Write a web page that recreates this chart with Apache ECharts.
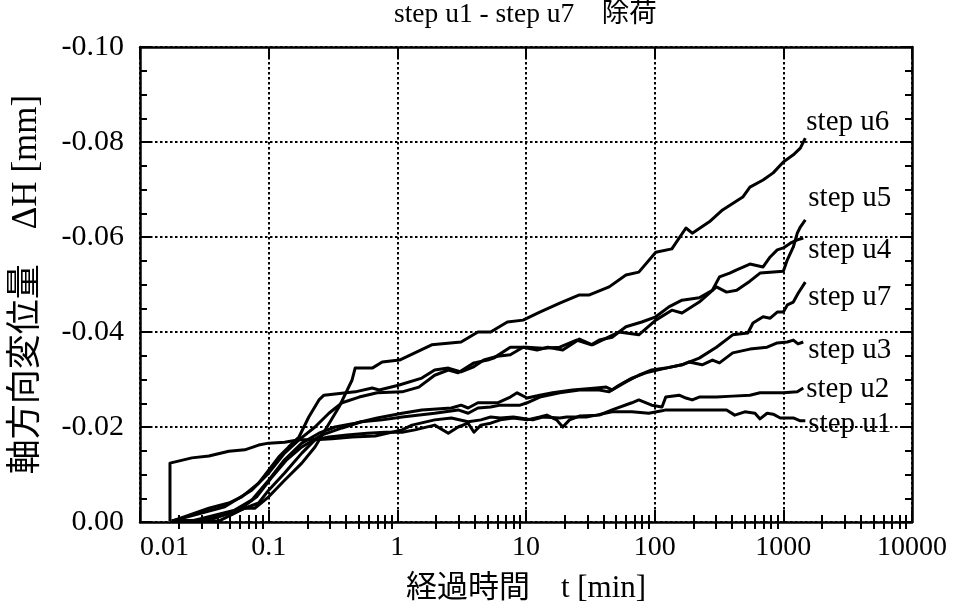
<!DOCTYPE html>
<html><head><meta charset="utf-8">
<script src="https://cdn.jsdelivr.net/npm/echarts@6/dist/echarts.min.js"></script>
<style>html,body{margin:0;padding:0;background:#fff}#c{width:959px;height:610px}</style>
</head><body><div id="c"></div>
<script>
const titleText = 'step u1 - step u7\u3000除荷';
const xName = '経過時間\u3000t [min]';
const yName = '軸方向変位量\u3000ΔH [mm]';
const xTickValues = [0.01, 0.1, 1, 10, 100, 1000, 10000];
const xTickLabels = ['0.01', '0.1', '1', '10', '100', '1000', '10000'];
const yTickLabels = ['-0.10', '-0.08', '-0.06', '-0.04', '-0.02', '0.00'];
const seriesNames = ['step u1', 'step u2', 'step u3', 'step u4', 'step u5', 'step u6', 'step u7'];

const u6 = [[0.0177,-0.0002],[0.0409,-0.0002],[0.0652,-0.0029],[0.0779,-0.0029],[0.1,-0.0053],[0.133,-0.0088],[0.181,-0.0124],[0.229,-0.0158],[0.284,-0.0200],[0.352,-0.0242],[0.445,-0.0299],[0.47,-0.0324],[0.638,-0.0324],[0.763,-0.0337],[1.04,-0.0341],[1.85,-0.0373],[3.13,-0.0379],[4.23,-0.0400],[5.31,-0.0400],[7.16,-0.0421],[9.49,-0.0425],[12.8,-0.0442],[18.3,-0.0461],[26.0,-0.0478],[31.1,-0.0478],[44.3,-0.0495],[59.8,-0.0520],[75.3,-0.0526],[102,-0.0568],[136,-0.0575],[175,-0.0619],[196,-0.0608],[266,-0.0632],[337,-0.0657],[484,-0.0684],[550,-0.0705],[696,-0.0720],[834,-0.0735],[1000,-0.0758],[1196,-0.0773],[1355,-0.0787],[1482,-0.0808]];
const u5 = [[0.0177,-0.0002],[0.0343,-0.0029],[0.049,-0.0040],[0.0618,-0.0053],[0.0836,-0.0082],[0.1,-0.0109],[0.120,-0.0137],[0.143,-0.0158],[0.172,-0.0179],[0.205,-0.0221],[0.246,-0.0257],[0.269,-0.0267],[0.47,-0.0274],[0.638,-0.0282],[0.723,-0.0278],[1.02,-0.0288],[1.55,-0.0303],[1.95,-0.0320],[2.49,-0.0324],[3.13,-0.0316],[3.87,-0.0326],[4.70,-0.0341],[6.01,-0.0349],[7.55,-0.0352],[9.5,-0.0368],[12.2,-0.0362],[14.8,-0.0368],[19.3,-0.0362],[26.0,-0.0385],[32.8,-0.0373],[39.1,-0.0383],[52.8,-0.0400],[75.3,-0.0394],[102,-0.0425],[136,-0.0446],[163,-0.0440],[222,-0.0463],[302,-0.0495],[362,-0.0484],[434,-0.0488],[550,-0.0507],[659,-0.0524],[790,-0.0526],[1000,-0.0528],[1074,-0.0552],[1196,-0.0579],[1284,-0.0608],[1355,-0.0621],[1482,-0.0636]];
const u4 = [[0.0177,-0.0002],[0.0456,-0.0032],[0.0738,-0.0067],[0.1,-0.0103],[0.133,-0.0145],[0.172,-0.0173],[0.229,-0.0200],[0.294,-0.0229],[0.372,-0.0251],[0.505,-0.0263],[0.698,-0.0272],[1.09,-0.0274],[1.47,-0.0284],[1.95,-0.0309],[2.49,-0.0320],[2.97,-0.0314],[3.94,-0.0335],[5.04,-0.0341],[5.60,-0.0345],[7.55,-0.0368],[10.2,-0.0368],[13.5,-0.0366],[18.3,-0.0368],[24.7,-0.0383],[32.2,-0.0373],[37.1,-0.0383],[46.7,-0.0389],[59.8,-0.0411],[79.4,-0.0421],[102,-0.0432],[129,-0.0453],[163,-0.0467],[222,-0.0472],[281,-0.0488],[319,-0.0516],[383,-0.0524],[434,-0.0531],[550,-0.0543],[696,-0.0537],[790,-0.0558],[897,-0.0573],[1000,-0.0577],[1133,-0.0587],[1284,-0.0594],[1429,-0.0598]];
const u7 = [[0.0177,-0.0002],[0.0253,-0.0002],[0.0545,-0.0025],[0.0738,-0.0046],[0.1,-0.0088],[0.133,-0.0131],[0.181,-0.0166],[0.246,-0.0187],[0.328,-0.0200],[0.47,-0.0208],[0.698,-0.0219],[1.09,-0.0229],[1.55,-0.0236],[2.63,-0.0240],[3.13,-0.0246],[3.55,-0.0240],[4.23,-0.0251],[6.01,-0.0251],[7.55,-0.0263],[8.53,-0.0272],[10.2,-0.0261],[12.8,-0.0267],[16.1,-0.0272],[23.0,-0.0278],[35.2,-0.0282],[42.0,-0.0284],[46.7,-0.0278],[59.8,-0.0295],[75.3,-0.0309],[94.8,-0.0320],[122,-0.0324],[163,-0.0331],[222,-0.0345],[302,-0.0368],[404,-0.0394],[530,-0.0398],[581,-0.0419],[696,-0.0432],[790,-0.0429],[897,-0.0442],[1000,-0.0442],[1074,-0.0457],[1196,-0.0463],[1307,-0.0482],[1482,-0.0505]];
const u3 = [[0.0177,-0.0002],[0.0302,-0.0002],[0.0585,-0.0025],[0.0807,-0.0053],[0.105,-0.0093],[0.138,-0.0131],[0.181,-0.0158],[0.258,-0.0183],[0.372,-0.0198],[0.526,-0.0211],[0.763,-0.0215],[1.09,-0.0221],[1.95,-0.0229],[2.97,-0.0236],[3.55,-0.0229],[4.23,-0.0240],[5.31,-0.0242],[6.33,-0.0246],[9.0,-0.0246],[10.2,-0.0251],[12.8,-0.0263],[18.3,-0.0272],[26.0,-0.0278],[37.1,-0.0278],[44.3,-0.0274],[52.8,-0.0288],[66.5,-0.0303],[85.3,-0.0314],[122,-0.0324],[163,-0.0331],[185,-0.0337],[234,-0.0331],[281,-0.0341],[319,-0.0335],[404,-0.0356],[550,-0.0364],[748,-0.0368],[897,-0.0377],[1074,-0.0379],[1196,-0.0383],[1300,-0.0375],[1429,-0.0379]];
const u2 = [[0.0177,-0.0002],[0.0343,-0.0004],[0.0652,-0.0029],[0.0836,-0.0040],[0.1,-0.0067],[0.133,-0.0103],[0.181,-0.0145],[0.229,-0.0173],[0.294,-0.0179],[0.407,-0.0183],[0.583,-0.0187],[0.806,-0.0189],[1.09,-0.0189],[1.37,-0.0194],[1.95,-0.0204],[2.49,-0.0187],[2.97,-0.0200],[3.55,-0.0208],[3.94,-0.0189],[4.46,-0.0204],[5.31,-0.0208],[6.33,-0.0215],[7.96,-0.0219],[10.2,-0.0215],[12.8,-0.0221],[14.5,-0.0225],[17.3,-0.0215],[19.3,-0.0200],[21.8,-0.0215],[26.0,-0.0223],[37.1,-0.0225],[46.7,-0.0236],[66.5,-0.0251],[75.3,-0.0257],[94.8,-0.0246],[114,-0.0242],[122,-0.0263],[155,-0.0267],[175,-0.0261],[196,-0.0257],[222,-0.0263],[302,-0.0263],[404,-0.0265],[550,-0.0267],[659,-0.0272],[897,-0.0272],[1000,-0.0272],[1284,-0.0274],[1429,-0.0282]];
const u1 = [[0.0171,-0.0002],[0.0171,-0.0124],[0.0253,-0.0135],[0.0343,-0.0139],[0.049,-0.0149],[0.0652,-0.0152],[0.0836,-0.0162],[0.1,-0.0166],[0.133,-0.0168],[0.172,-0.0173],[0.229,-0.0173],[0.311,-0.0175],[0.445,-0.0179],[0.673,-0.0181],[1.09,-0.0194],[1.30,-0.0204],[1.95,-0.0215],[2.63,-0.0219],[3.55,-0.0211],[4.46,-0.0215],[5.31,-0.0221],[6.33,-0.0219],[7.96,-0.0221],[9.0,-0.0219],[11.3,-0.0215],[13.5,-0.0221],[18.3,-0.0219],[20.7,-0.0221],[29.4,-0.0221],[35.2,-0.0225],[46.7,-0.0232],[66.5,-0.0232],[90,-0.0229],[114,-0.0234],[122,-0.0236],[222,-0.0236],[362,-0.0236],[419,-0.0225],[502,-0.0232],[602,-0.0229],[659,-0.0217],[748,-0.0229],[834,-0.0227],[947,-0.0219],[1196,-0.0219],[1355,-0.0213],[1482,-0.0213]];

const seriesData = [u1, u2, u3, u4, u5, u6, u7];
const labelOffsets = [[0, 4], [0, 1], [2, 8], [2, 12], [0, -22], [-2, -16], [0, 15]];

const xMinorTicks = [];
for (let k = -2; k <= 3; k++) {
  for (let m = 2; m <= 9; m++) xMinorTicks.push(+(m * Math.pow(10, k)).toPrecision(3));
}

const SERIF = "'Liberation Serif', 'Times New Roman', 'Noto Sans CJK JP', serif";
const black = '#000';
const dotted = { color: black, width: 2, type: [2.5, 2.5] };
const frame = { show: true, onZero: false, lineStyle: { color: black, width: 2.5 } };

const chart = echarts.init(document.getElementById('c'), null, { renderer: 'canvas' });
const xCommon = { type: 'log', logBase: 10, min: 0.01, max: 10000, gridIndex: 0 };
const yCommon = { type: 'value', min: -0.1, max: 0, interval: 0.02, inverse: true, gridIndex: 0 };

chart.setOption({
  animation: false,
  backgroundColor: '#fff',
  grid: { left: 140, right: 47, top: 47, bottom: 88, containLabel: false },
  graphic: [{
    type: 'text', left: 527 - 133, top: 1,
    style: { text: titleText, fontSize: 27.5, fontFamily: SERIF, fill: black }
  }],
  xAxis: [
    Object.assign({}, xCommon, {
      position: 'bottom',
      axisLine: frame,
      axisTick: { show: true, inside: true, length: 12, lineStyle: { color: black, width: 2 } },
      axisLabel: {
        show: true, margin: 12, color: black, fontSize: 28, fontFamily: SERIF,
        alignMinLabel: 'left',
        formatter: function (v) {
          for (let i = 0; i < xTickValues.length; i++) {
            if (Math.abs(Math.log10(v) - Math.log10(xTickValues[i])) < 1e-6) return xTickLabels[i];
          }
          return '';
        }
      },
      splitLine: { show: true, lineStyle: dotted },
      name: xName, nameLocation: 'middle', nameGap: 51,
      nameTextStyle: { color: black, fontSize: 31, fontFamily: SERIF }
    }),
    Object.assign({}, xCommon, {
      position: 'top',
      axisLine: frame,
      axisTick: { show: true, inside: true, length: 12, lineStyle: { color: black, width: 2 } },
      axisLabel: { show: false }, splitLine: { show: false }
    }),
    Object.assign({}, xCommon, {
      position: 'bottom',
      axisLine: { show: false },
      axisTick: { show: true, inside: true, length: 7, customValues: xMinorTicks, lineStyle: { color: black, width: 2 } },
      axisLabel: { show: false }, splitLine: { show: false }
    }),
    Object.assign({}, xCommon, {
      position: 'top',
      axisLine: { show: false },
      axisTick: { show: true, inside: true, length: 7, customValues: xMinorTicks, lineStyle: { color: black, width: 2 } },
      axisLabel: { show: false }, splitLine: { show: false }
    })
  ],
  yAxis: [
    Object.assign({}, yCommon, {
      position: 'left',
      axisLine: frame,
      axisTick: { show: true, inside: true, length: 10, lineStyle: { color: black, width: 2 } },
      minorTick: { show: true, splitNumber: 4, length: 7, lineStyle: { color: black, width: 2 } },
      axisLabel: {
        show: true, margin: 16, color: black, fontSize: 30, fontFamily: SERIF,
        formatter: function (v) {
          const idx = Math.round((v + 0.1) / 0.02);
          return yTickLabels[idx];
        }
      },
      splitLine: { show: true, lineStyle: dotted },
      name: yName, nameLocation: 'middle', nameGap: 96, nameRotate: 90,
      nameTextStyle: { color: black, fontSize: 35, fontFamily: SERIF }
    }),
    Object.assign({}, yCommon, {
      position: 'right',
      axisLine: frame,
      axisTick: { show: true, inside: true, length: 10, lineStyle: { color: black, width: 2 } },
      minorTick: { show: true, splitNumber: 4, length: 7, lineStyle: { color: black, width: 2 } },
      axisLabel: { show: false }, splitLine: { show: false }
    })
  ],
  series: seriesData.map(function (d, i) {
    return {
      name: seriesNames[i], type: 'line', xAxisIndex: 0, yAxisIndex: 0,
      data: d, symbol: 'none', showSymbol: false, smooth: false,
      lineStyle: { color: black, width: 3, join: 'round' },
      z: 3,
      endLabel: {
        show: true, formatter: '{a}', distance: 3, offset: labelOffsets[i],
        color: black, fontSize: 29, fontFamily: SERIF
      }
    };
  })
});
</script>
</body></html>
